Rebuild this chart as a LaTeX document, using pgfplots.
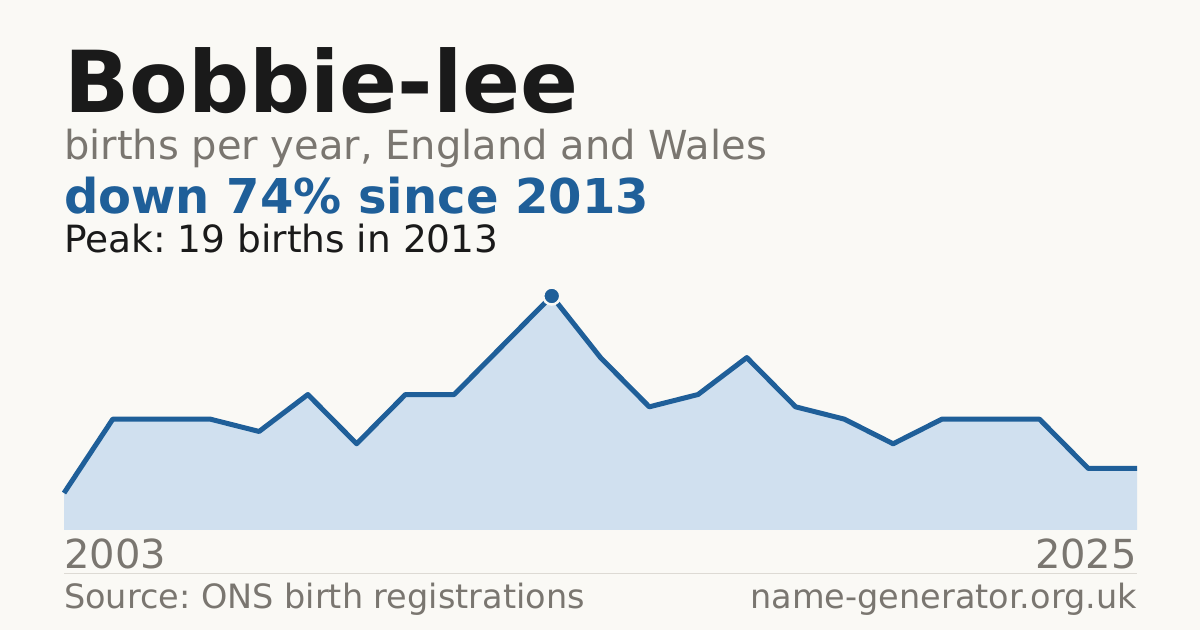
\documentclass[border=0pt]{standalone}
\usepackage{pgfplots}
\pgfplotsset{compat=1.18}
\usepackage{fontspec}
\setmainfont{DejaVu Sans}
\frenchspacing

\definecolor{bg}{HTML}{FAF9F5}
\definecolor{ink}{HTML}{1A1A1A}
\definecolor{muted}{HTML}{7A7670}
\definecolor{accent}{HTML}{1F5F99}
\definecolor{areafill}{HTML}{D0E0EF}
\definecolor{rule}{HTML}{DDDAD4}

\begin{document}
\begin{tikzpicture}[x=1bp,y=1bp]
% canvas, 1200 x 630 with y measured upward
\fill[bg] (0,0) rectangle (1200,630);

% headings
\node[anchor=base west,inner sep=0,text=ink] at (64,517)
  {\fontsize{85.5bp}{90bp}\selectfont\bfseries Bobbie-lee};
\node[anchor=base west,inner sep=0,text=muted] at (64,470)
  {\fontsize{40bp}{44bp}\selectfont births per year, England and Wales};
\node[anchor=base west,inner sep=0,text=accent] at (64,416)
  {\fontsize{48bp}{52bp}\selectfont\bfseries down 74\% since 2013};
\node[anchor=base west,inner sep=0,text=ink] at (64,377)
  {\fontsize{37.5bp}{41bp}\selectfont Peak: 19 births in 2013};

\begin{axis}[
  at={(64bp,100bp)}, anchor=south west,
  scale only axis, width=1073bp, height=234bp,
  xmin=0, xmax=22, ymin=0, ymax=19,
  hide axis, clip=false
]
% births, 2003 .. 2025
\addplot[fill=areafill, draw=none] coordinates {
  (0,3)(1,9)(2,9)(3,9)(4,8)(5,11)(6,7)(7,11)(8,11)(9,15)(10,19)(11,14)
  (12,10)(13,11)(14,14)(15,10)(16,9)(17,7)(18,9)(19,9)(20,9)(21,5)(22,5)
} \closedcycle;
\addplot[accent, line width=5bp, line join=round] coordinates {
  (0,3)(1,9)(2,9)(3,9)(4,8)(5,11)(6,7)(7,11)(8,11)(9,15)(10,19)(11,14)
  (12,10)(13,11)(14,14)(15,10)(16,9)(17,7)(18,9)(19,9)(20,9)(21,5)(22,5)
};
% peak
\addplot[only marks, mark=*, mark size=8.5bp,
  mark options={fill=accent, draw=bg, line width=2.5bp}] coordinates {(10,19)};
\end{axis}

% footer
\node[anchor=base west,inner sep=0,text=muted] at (64,61)
  {\fontsize{40bp}{44bp}\selectfont 2003};
\node[anchor=base east,inner sep=0,text=muted] at (1137,61)
  {\fontsize{40bp}{44bp}\selectfont 2025};
\draw[rule, line width=1bp] (64,56) -- (1137,56);
\node[anchor=base west,inner sep=0,text=muted] at (64,21)
  {\fontsize{33.5bp}{37bp}\selectfont Source: ONS birth registrations};
\node[anchor=base east,inner sep=0,text=muted] at (1137,21)
  {\fontsize{33.5bp}{37bp}\selectfont name-generator.org.uk};
\end{tikzpicture}
\end{document}
